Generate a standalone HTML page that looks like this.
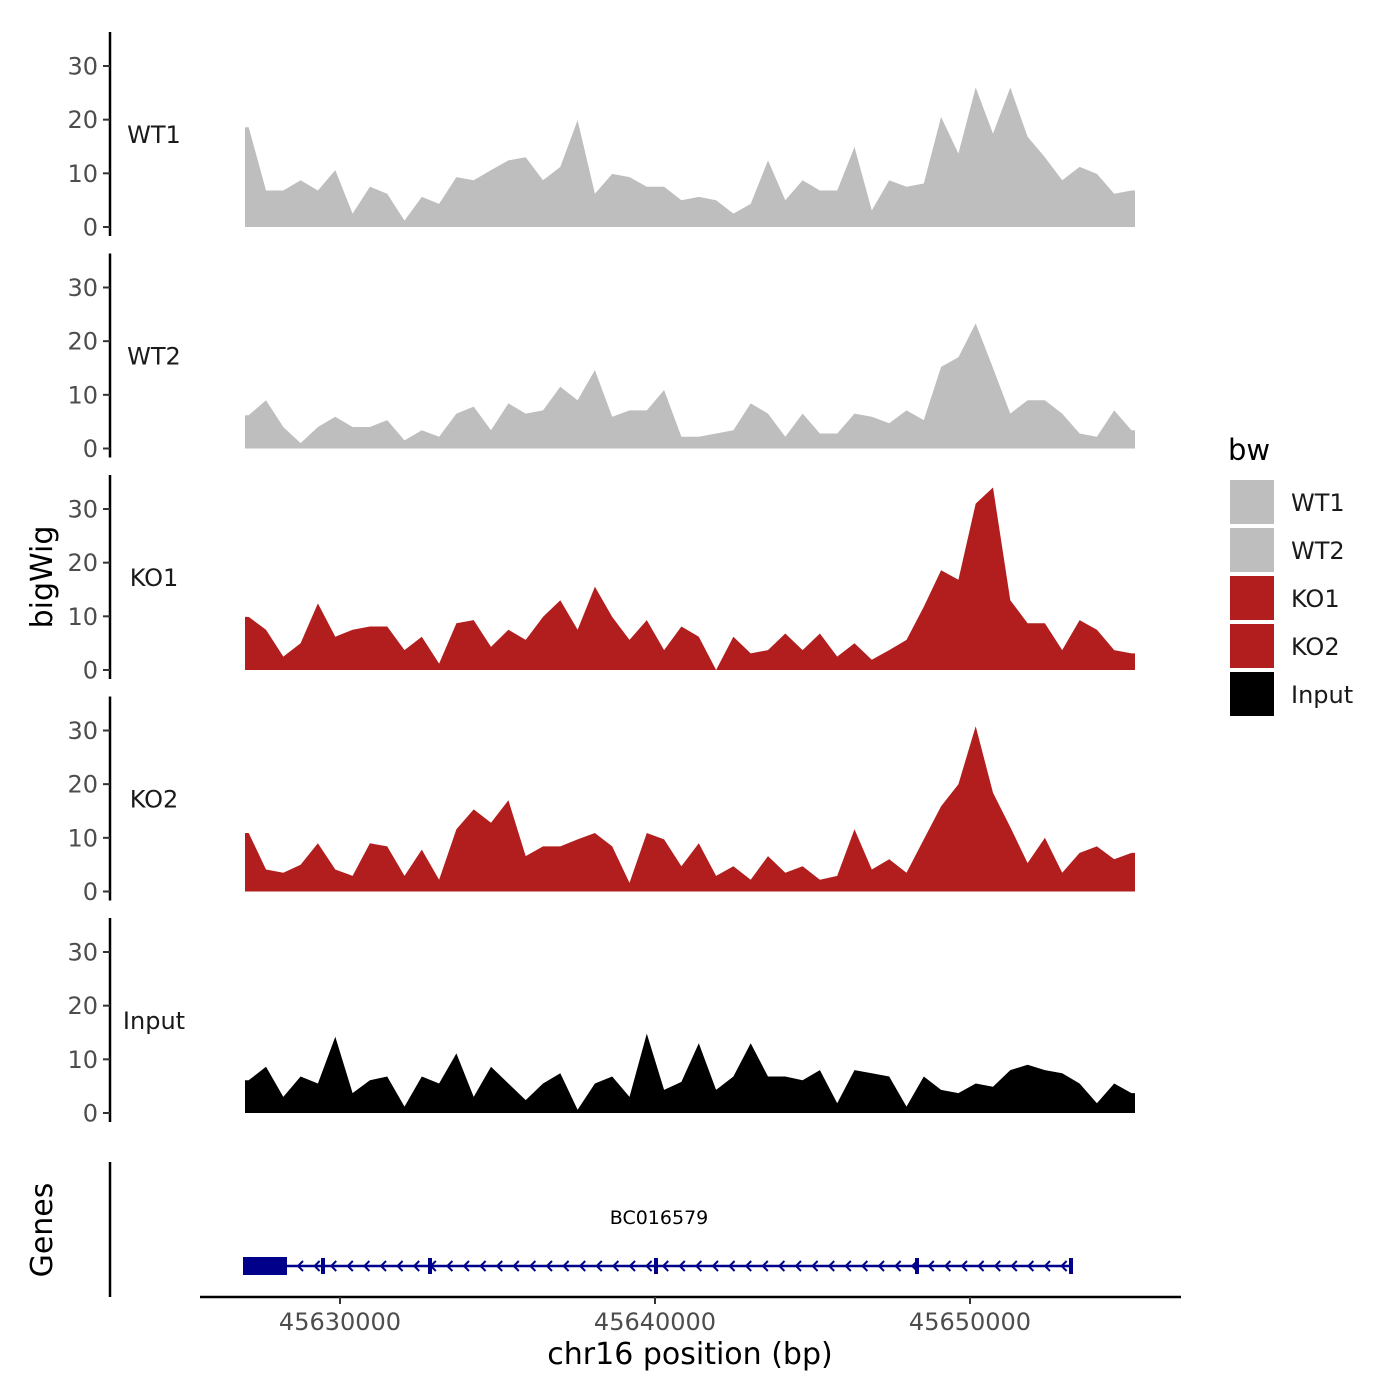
<!DOCTYPE html>
<html><head><meta charset="utf-8"><style>
html,body{margin:0;padding:0;background:#fff;}
svg{display:block;font-family:"DejaVu Sans","Liberation Sans",sans-serif;}
</style></head><body>
<svg id="chart" width="1400" height="1400" viewBox="0 0 1400 1400" xmlns="http://www.w3.org/2000/svg">
<rect width="1400" height="1400" fill="#fff"/>
<g id="tracks"></g>
<g id="genes"></g>
<line x1="110" y1="1162" x2="110" y2="1297" stroke="#000" stroke-width="2.5"/>
<line x1="200" y1="1297" x2="1181" y2="1297" stroke="#000" stroke-width="2.5"/>
<g id="xticks"></g>
<text x="690" y="1364" font-size="30" text-anchor="middle" fill="#000">chr16 position (bp)</text>
<text transform="translate(52,577) rotate(-90)" font-size="30" text-anchor="middle" fill="#000">bigWig</text>
<text transform="translate(52,1230) rotate(-90)" font-size="30" text-anchor="middle" fill="#000">Genes</text>
<g id="legend">
<text x="1228" y="460" font-size="29" fill="#000">bw</text>
</g>
</svg>
<script>
const binStart = 45627102;
const binSize = 549.5;
const trackNames = ["WT1","WT2","KO1","KO2","Input"];
const trackColors = ["#bebebe","#bebebe","#b21e1e","#b21e1e","#000000"];
const wt1 = [18.6,6.8,6.8,8.7,6.8,10.6,2.5,7.5,6.2,1.2,5.6,4.3,9.3,8.7,10.6,12.4,13,8.7,11.2,19.9,6.2,9.9,9.3,7.5,7.5,5,5.6,5,2.5,4.3,12.4,5,8.7,6.8,6.8,14.9,3.1,8.7,7.5,8.1,20.5,13.7,26,17.4,26,16.8,13,8.7,11.2,9.9,6.2,6.8];
const wt2 = [6.2,9,4,1,4,5.9,4,4,5.3,1.5,3.4,2.2,6.5,7.8,3.4,8.4,6.5,7.1,11.5,9,14.6,5.9,7.1,7.1,10.9,2.2,2.2,2.8,3.4,8.4,6.5,2.2,6.5,2.8,2.8,6.5,5.9,4.7,7.1,5.3,15.2,17,23.3,15,6.5,9,9,6.5,2.8,2.2,7.1,3.4];
const ko1 = [9.9,7.5,2.5,5,12.4,6.2,7.5,8.1,8.1,3.7,6.2,1.2,8.7,9.3,4.3,7.5,5.6,9.9,13,7.5,15.5,9.9,5.6,9.3,3.7,8.1,6.2,0,6.2,3.1,3.7,6.8,3.7,6.8,2.5,5,1.9,3.7,5.6,11.8,18.6,16.8,31,34,13,8.7,8.7,3.7,9.3,7.5,3.7,3.1];
const ko2 = [10.9,4.1,3.5,5,9,4.1,2.9,9,8.4,2.9,7.8,2.2,11.6,15.3,12.8,17,6.6,8.4,8.4,9.7,10.9,8.4,1.6,10.9,9.7,4.7,9,2.9,4.7,2.2,6.6,3.5,4.7,2.2,2.9,11.6,4.1,6,3.5,9.7,15.9,20,30.8,18.4,12,5.3,10,3.5,7.2,8.4,6,7.2];
const input = [6.1,8.6,3,6.8,5.5,14.2,3.7,6.1,6.8,1.2,6.8,5.5,11.1,3,8.6,5.5,2.4,5.5,7.4,0.6,5.5,6.8,3,14.8,4.3,5.8,13,4.3,6.8,13,6.8,6.8,6.1,8,1.8,8,7.4,6.8,1.2,6.8,4.3,3.7,5.5,4.9,8,9,8,7.4,5.5,1.8,5.5,3.7];
const yTicks = [0,10,20,30];
const xTicks = [45630000,45640000,45650000];
const series = [wt1,wt2,ko1,ko2,input];

const NS="http://www.w3.org/2000/svg";
function mk(tag,attrs,parent){const e=document.createElementNS(NS,tag);for(const k in attrs)e.setAttribute(k,attrs[k]);parent.appendChild(e);return e;}
function xScale(bp){return 340+(bp-45630000)*0.0315;}
const xMin=245,xMax=1135;
function clampX(x){return Math.max(xMin,Math.min(xMax,x));}
function yBase(t){return 227+t*221.5;}
function yScale(t,v){return yBase(t)-v*5.367;}

const tracks=document.getElementById('tracks');
series.forEach((vals,t)=>{
  const g=mk('g',{},tracks);
  
  
  const b=yBase(t);
  const ax=mk('line',{x1:110,y1:b-195,x2:110,y2:b+9,stroke:'#000','stroke-width':2.5},g);
  
  
  yTicks.forEach(v=>{
    const y=yScale(t,v);
    mk('line',{x1:103,y1:y,x2:110,y2:y,stroke:'#333','stroke-width':2},g);
    const tx=mk('text',{x:98,y:y+8.5,'font-size':24,'text-anchor':'end',fill:'#4d4d4d'},g);
    tx.textContent=v;
    
    
  });
  const lab=mk('text',{x:154,y:yScale(t,17)+7,'font-size':24,'text-anchor':'middle',fill:'#1a1a1a'},g);
  lab.textContent=trackNames[t];
  
  
  let segs=[],cur=[];
  vals.forEach((v,i)=>{
    if(v===null){if(cur.length)segs.push(cur);cur=[];return;}
    cur.push([xScale(binStart+i*binSize),v]);
  });
  if(cur.length)segs.push(cur);
  segs.forEach((s,si)=>{
    if(si===0)s.unshift([xMin,s[0][1]]);
    if(si===segs.length-1)s.push([xMax,s[s.length-1][1]]);
    let d='M'+clampX(s[0][0]).toFixed(1)+','+b;
    s.forEach(p=>{d+=' L'+clampX(p[0]).toFixed(1)+','+yScale(t,p[1]).toFixed(1);});
    d+=' L'+clampX(s[s.length-1][0]).toFixed(1)+','+b+' Z';
    const a=mk('path',{d:d,fill:trackColors[t]},g);
    
    
  });
});

const xt=document.getElementById('xticks');
xTicks.forEach(v=>{
  const x=xScale(v);
  mk('line',{x1:x,y1:1297,x2:x,y2:1304,stroke:'#333','stroke-width':2},xt);
  const tx=mk('text',{x:x,y:1330,'font-size':24,'text-anchor':'middle',fill:'#4d4d4d'},xt);
  tx.textContent=v;
  
  
});

const gg=document.getElementById('genes');
const gy=1266, navy='#00008b';
mk('line',{x1:243,y1:gy,x2:1073,y2:gy,stroke:navy,'stroke-width':2.5},gg);
mk('rect',{x:243,y:gy-9,width:44,height:18,fill:navy},gg);
[323,430,656,917,1071].forEach(x=>{mk('rect',{x:x-2,y:gy-8,width:4,height:16,fill:navy},gg);});
for(let x=298;x<1066;x+=16.6){mk('path',{d:`M${x+5},${gy-5} L${x},${gy} L${x+5},${gy+5}`,fill:'none',stroke:navy,'stroke-width':2},gg);}
const gl=mk('text',{x:659,y:1224,'font-size':19,'text-anchor':'middle',fill:'#000'},gg);
gl.textContent='BC016579';



const lg=document.getElementById('legend');
trackNames.forEach((n,i)=>{
  const y=480+i*48;
  const r=mk('rect',{x:1230,y:y,width:44,height:44,fill:trackColors[i]},lg);
  
  
  const t=mk('text',{x:1291,y:y+31,'font-size':24,fill:'#1a1a1a'},lg);
  t.textContent=n;
  
  
});
</script>
</body></html>
